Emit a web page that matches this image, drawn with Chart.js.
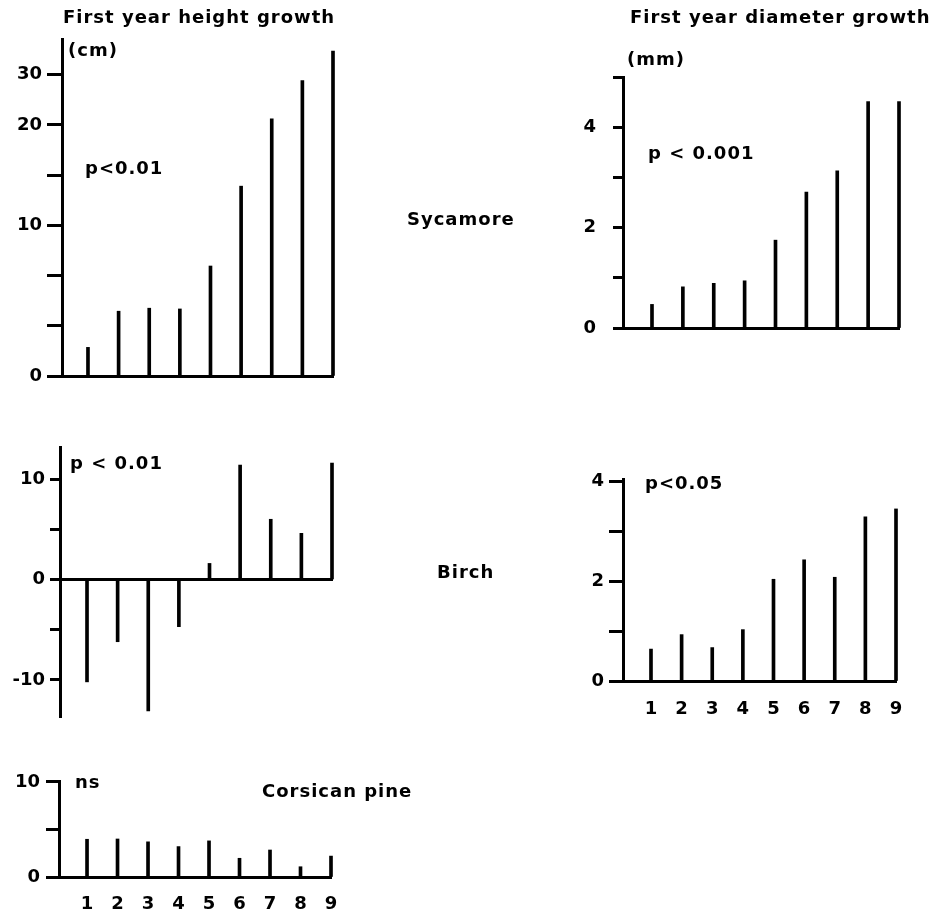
<!DOCTYPE html>
<html lang="en">
<head>
<meta charset="UTF-8">
<title>First year growth</title>
<script src="https://cdn.jsdelivr.net/npm/chart.js"></script>
<style>
  body { margin: 0; background: #fff; }
  #wrap { position: relative; width: 939px; height: 916px; overflow: hidden; }
  canvas { position: absolute; left: 0; top: 0; }
  .lbl {
    position: absolute;
    font-family: 'DejaVu Sans', sans-serif;
    font-weight: bold;
    font-size: 18px;
    line-height: 18px;
    letter-spacing: 1px;
    color: #000;
    white-space: nowrap;
  }
</style>
</head>
<body>
<div id="wrap">
  <canvas id="sycH" width="939" height="916"></canvas>
  <canvas id="sycD" width="939" height="916"></canvas>
  <canvas id="birH" width="939" height="916"></canvas>
  <canvas id="birD" width="939" height="916"></canvas>
  <canvas id="pinH" width="939" height="916"></canvas>

  <div class="lbl" style="left:63px;top:8px">First year height growth</div>
  <div class="lbl" style="left:68px;top:41px">(cm)</div>
  <div class="lbl" style="left:85px;top:159px">p&lt;0.01</div>
  <div class="lbl" style="left:630px;top:8px">First year diameter growth</div>
  <div class="lbl" style="left:627px;top:50px">(mm)</div>
  <div class="lbl" style="left:648px;top:144px">p &lt; 0.001</div>
  <div class="lbl" style="left:407px;top:210px">Sycamore</div>
  <div class="lbl" style="left:70px;top:454px">p &lt; 0.01</div>
  <div class="lbl" style="left:437px;top:563px">Birch</div>
  <div class="lbl" style="left:645px;top:474px">p&lt;0.05</div>
  <div class="lbl" style="left:75px;top:773px">ns</div>
  <div class="lbl" style="left:262px;top:782px">Corsican pine</div>
</div>
<script>
  // size classes 1..9
  const classes = [1, 2, 3, 4, 5, 6, 7, 8, 9];

  // first year height growth (cm)
  const sycamoreHeight = [1.9, 4.3, 4.5, 4.45, 7.3, 13.9, 21.2, 28.8, 34.7];
  const birchHeight = [-10.2, -6.2, -13.1, -4.7, 1.6, 11.4, 6.0, 4.6, 11.6];
  const pineHeight = [3.97, 4.0, 3.7, 3.2, 3.8, 1.97, 2.84, 1.08, 2.2];

  // first year diameter growth (mm)
  const sycamoreDiameter = [0.47, 0.82, 0.89, 0.94, 1.75, 2.71, 3.13, 4.51, 4.51];
  const birchDiameter = [0.64, 0.93, 0.67, 1.03, 2.04, 2.43, 2.08, 3.29, 3.45];

  // y tick values and their labels
  const sycHTicks = [0, 3.33, 6.67, 10, 15, 20, 30];
  const sycHLabels = ['0', '', '', '10', '', '20', '30'];
  const sycDTicks = [0, 1, 2, 3, 4, 5];
  const sycDLabels = ['0', '', '2', '', '4', ''];
  const birHTicks = [-10, -5, 0, 5, 10];
  const birHLabels = ['-10', '', '0', '', '10'];
  const birDTicks = [0, 1, 2, 3, 4];
  const birDLabels = ['0', '', '2', '', '4'];
  const pinHTicks = [0, 5, 10];
  const pinHLabels = ['0', '', '10'];

  // the sycamore height axis is compressed: 0-10, 10-20, 20-30 take 3, 2, 1 steps
  function cmToAxis(v) {
    if (v <= 10) return v * 0.3;
    if (v <= 20) return 3 + (v - 10) * 0.2;
    return 5 + (v - 20) * 0.1;
  }
  const same = v => v;

  const W = 939, H = 916, YW = 60, XH = 50;

  Chart.defaults.font.family = "'DejaVu Sans', sans-serif";
  Chart.defaults.font.weight = 'bold';
  Chart.defaults.font.size = 18;
  Chart.defaults.color = '#000';

  function panel(id, o) {
    const f = o.map || same;
    return new Chart(document.getElementById(id), {
      type: 'bar',
      data: {
        datasets: [{
          data: o.values.map((v, i) => ({ x: classes[i], y: f(v) })),
          backgroundColor: '#000',
          barThickness: 3,
          clip: false
        }]
      },
      options: {
        responsive: false,
        animation: false,
        events: [],
        layout: {
          padding: {
            left: o.axisX - YW,
            top: o.top,
            right: W - o.right,
            bottom: H - o.bottom - (o.xAtZero ? 0 : XH)
          }
        },
        plugins: { legend: { display: false }, tooltip: { enabled: false } },
        scales: {
          x: {
            type: 'linear',
            offset: false,
            min: o.xMin,
            max: 9,
            position: o.xAtZero ? { y: 0 } : 'bottom',
            border: { display: true, color: '#000', width: 3 },
            grid: { display: true, offset: false, drawOnChartArea: false, drawTicks: false },
            afterFit: s => { if (!o.xAtZero) s.height = XH; },
            afterBuildTicks: s => { s.ticks = classes.map(v => ({ value: v })); },
            ticks: {
              display: !!o.xLabels,
              autoSkip: false,
              maxRotation: 0,
              padding: o.xPad || 0,
              callback: v => String(v)
            }
          },
          y: {
            min: o.yMin,
            max: o.yMax,
            border: { display: true, color: '#000', width: 3 },
            grid: {
              display: true,
              drawOnChartArea: false,
              drawTicks: true,
              color: '#000',
              tickColor: '#000',
              tickWidth: 3,
              tickLength: o.tickLen
            },
            afterFit: s => { s.width = YW; },
            afterBuildTicks: s => { s.ticks = o.ticks.map(v => ({ value: f(v) })); },
            ticks: {
              autoSkip: false,
              padding: o.tickPad,
              callback: (v, i) => o.labels[i]
            }
          }
        }
      }
    });
  }

  panel('sycH', {
    values: sycamoreHeight, map: cmToAxis, ticks: sycHTicks, labels: sycHLabels,
    yMin: 0, yMax: 6.71, axisX: 62, right: 333, top: 39, bottom: 376,
    xMin: 0.152, tickLen: 15, tickPad: 5
  });
  panel('sycD', {
    values: sycamoreDiameter, ticks: sycDTicks, labels: sycDLabels,
    yMin: 0, yMax: 5, axisX: 623, right: 899, top: 77, bottom: 328,
    xMin: 0.061, tickLen: 10, tickPad: 17
  });
  panel('birH', {
    values: birchHeight, ticks: birHTicks, labels: birHLabels,
    yMin: -13.7, yMax: 13.2, axisX: 60, right: 332, top: 447, bottom: 717,
    xMin: 0.118, tickLen: 10, tickPad: 5, xAtZero: true
  });
  panel('birD', {
    values: birchDiameter, ticks: birDTicks, labels: birDLabels,
    yMin: 0, yMax: 4.05, axisX: 623, right: 896, top: 479, bottom: 681,
    xMin: 0.086, tickLen: 14, tickPad: 5, xLabels: true, xPad: 18
  });
  panel('pinH', {
    values: pineHeight, ticks: pinHTicks, labels: pinHLabels,
    yMin: 0, yMax: 10.1, axisX: 59, right: 331, top: 781, bottom: 877,
    xMin: 0.081, tickLen: 13, tickPad: 6, xLabels: true, xPad: 17
  });
</script>
</body>
</html>
